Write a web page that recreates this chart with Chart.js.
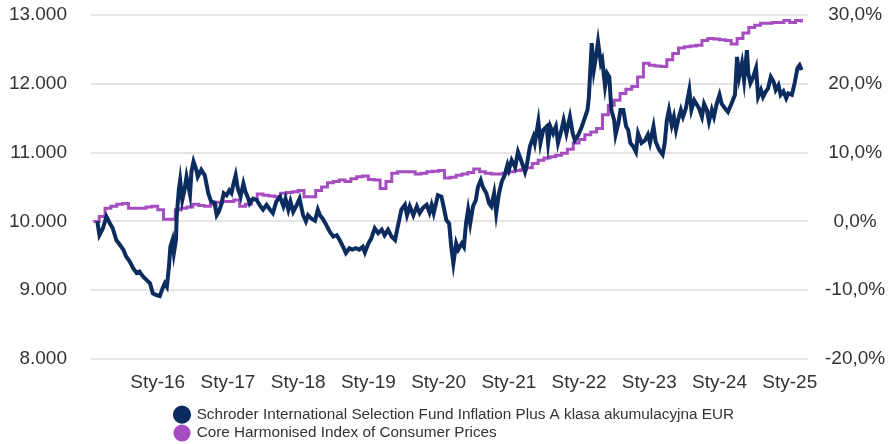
<!DOCTYPE html>
<html>
<head>
<meta charset="utf-8">
<script src="https://cdn.jsdelivr.net/npm/chart.js@4"></script>
<style>
  body { margin: 0; background: #ffffff; }
  #wrap { width: 893px; height: 444px; }
</style>
</head>
<body>
<div id="wrap"><canvas id="lineChart" width="893" height="444"></canvas></div>
<script>
// Tick labels (years, Polish "Sty" = January)
const yearTicks = [2016, 2017, 2018, 2019, 2020, 2021, 2022, 2023, 2024, 2025];
const yearLabels = ["Sty-16", "Sty-17", "Sty-18", "Sty-19", "Sty-20", "Sty-21", "Sty-22", "Sty-23", "Sty-24", "Sty-25"];

const seriesNames = [
    "Schroder International Selection Fund Inflation Plus A klasa akumulacyjna EUR",
    "Core Harmonised Index of Consumer Prices",
];

// Fund value (growth of 10 000), dates as decimal years
const fundDates = [
    2015.14, 2015.17, 2015.22, 2015.27, 2015.32, 2015.36, 2015.41, 2015.46, 2015.51, 2015.55,
    2015.60, 2015.65, 2015.70, 2015.74, 2015.79, 2015.84, 2015.89, 2015.93, 2015.98, 2016.03,
    2016.07, 2016.10, 2016.13, 2016.16, 2016.18, 2016.21, 2016.23, 2016.26, 2016.27, 2016.30,
    2016.32, 2016.35, 2016.38, 2016.41, 2016.46, 2016.48, 2016.51, 2016.55, 2016.57, 2016.62,
    2016.67, 2016.72, 2016.76, 2016.81, 2016.84, 2016.87, 2016.91, 2016.94, 2016.98, 2017.02,
    2017.05, 2017.08, 2017.11, 2017.14, 2017.18, 2017.22, 2017.25, 2017.29, 2017.31, 2017.36,
    2017.41, 2017.45, 2017.50, 2017.55, 2017.60, 2017.64, 2017.69, 2017.74, 2017.79, 2017.82,
    2017.86, 2017.89, 2017.93, 2017.98, 2018.02, 2018.07, 2018.11, 2018.14, 2018.19, 2018.24,
    2018.28, 2018.31, 2018.35, 2018.40, 2018.45, 2018.50, 2018.55, 2018.59, 2018.64, 2018.68,
    2018.73, 2018.77, 2018.82, 2018.87, 2018.92, 2018.95, 2019.00, 2019.04, 2019.09, 2019.14,
    2019.19, 2019.23, 2019.28, 2019.33, 2019.38, 2019.42, 2019.47, 2019.52, 2019.55, 2019.59,
    2019.64, 2019.69, 2019.73, 2019.78, 2019.83, 2019.87, 2019.90, 2019.93, 2019.99, 2020.04,
    2020.07, 2020.11, 2020.15, 2020.18, 2020.21, 2020.25, 2020.28, 2020.33, 2020.36, 2020.39,
    2020.42, 2020.45, 2020.49, 2020.53, 2020.56, 2020.60, 2020.63, 2020.68, 2020.72, 2020.75,
    2020.79, 2020.82, 2020.86, 2020.90, 2020.94, 2020.98, 2021.00, 2021.04, 2021.09, 2021.13,
    2021.18, 2021.23, 2021.26, 2021.30, 2021.35, 2021.37, 2021.42, 2021.45, 2021.49, 2021.54,
    2021.56, 2021.59, 2021.63, 2021.67, 2021.70, 2021.75, 2021.78, 2021.82, 2021.87, 2021.91,
    2021.94, 2021.99, 2022.04, 2022.08, 2022.12, 2022.14, 2022.18, 2022.21, 2022.24, 2022.27,
    2022.31, 2022.33, 2022.37, 2022.40, 2022.43, 2022.46, 2022.50, 2022.52, 2022.56, 2022.59,
    2022.63, 2022.67, 2022.70, 2022.73, 2022.77, 2022.81, 2022.84, 2022.89, 2022.94, 2022.98,
    2023.01, 2023.06, 2023.09, 2023.14, 2023.19, 2023.22, 2023.25, 2023.28, 2023.32, 2023.35,
    2023.38, 2023.41, 2023.45, 2023.48, 2023.52, 2023.57, 2023.60, 2023.64, 2023.67, 2023.71,
    2023.75, 2023.78, 2023.82, 2023.85, 2023.89, 2023.92, 2023.96, 2024.00, 2024.03, 2024.08,
    2024.12, 2024.17, 2024.22, 2024.25, 2024.28, 2024.32, 2024.35, 2024.39, 2024.41, 2024.44,
    2024.48, 2024.52, 2024.55, 2024.59, 2024.62, 2024.66, 2024.69, 2024.73, 2024.77, 2024.80,
    2024.84, 2024.87, 2024.91, 2024.95, 2024.98, 2025.03, 2025.07, 2025.11, 2025.14, 2025.17,
];
const fundValues = [
    10000, 9800, 9900, 10070, 9970, 9900, 9730, 9660, 9590, 9490,
    9420, 9320, 9250, 9270, 9200, 9150, 9100, 8955, 8930, 8915,
    9030, 9100, 9050, 9340, 9630, 9730, 9540, 9730, 10070, 10450,
    10600, 10310, 10450, 10650, 10390, 10720, 10870, 10750, 10650, 10750,
    10670, 10410, 10290, 10270, 10090, 10140, 10260, 10410, 10380, 10450,
    10410, 10550, 10670, 10480, 10360, 10550, 10430, 10330, 10260, 10330,
    10310, 10240, 10170, 10240, 10170, 10120, 10290, 10360, 10220, 10330,
    10170, 10290, 10140, 10240, 10330, 10090, 10000, 10090, 10040, 10010,
    10170, 10090, 10040, 9950, 9850, 9780, 9800, 9730, 9630, 9540,
    9610, 9590, 9610, 9590, 9630, 9550, 9680, 9750, 9900, 9830,
    9880, 9800, 9880, 9780, 9730, 9930, 10170, 10240, 10090, 10220,
    10090, 10220, 10120, 10200, 10240, 10130, 10240, 10120, 10380, 10360,
    10220, 10020, 9970, 9630, 9390, 9680, 9590, 9680, 9630, 9970,
    10170, 9970, 10220, 10310, 10500, 10600, 10500, 10410, 10260, 10220,
    10410, 10120, 10410, 10580, 10670, 10820, 10750, 10890, 10790, 11010,
    10870, 10720, 10840, 11090, 11230, 11140, 11450, 11140, 11330, 11380,
    11140, 11380, 11280, 11380, 11140, 11330, 11470, 11280, 11520, 11280,
    11180, 11260, 11380, 11500, 11620, 11810, 12590, 12200, 12390, 12610,
    12300, 12350, 11960, 12150, 12100, 11620, 11470, 11260, 11430, 11620,
    11620, 11380, 11330, 11140, 11090, 11010, 11280, 11140, 11180, 11260,
    11140, 11380, 11160, 11040, 10970, 11140, 11470, 11620, 11400, 11520,
    11330, 11470, 11620, 11520, 11640, 11910, 11620, 11760, 11710, 11640,
    11520, 11710, 11620, 11450, 11620, 11520, 11710, 11840, 11710, 11640,
    11590, 11710, 11840, 12390, 12100, 12300, 12050, 12490, 12150, 12010,
    12100, 12230, 11810, 11910, 11810, 11890, 11930, 12100, 12030, 11910,
    11980, 11840, 11890, 11790, 11860, 11840, 12010, 12230, 12270, 12200,
];

// Core HICP rebased to 10 000, monthly from February 2015
const cpiStartYear = 2015;
const cpiStartMonth = 2;
const cpiValues = [
    10000, 10070, 10190, 10220, 10250, 10260, 10190, 10190, 10190, 10210, 10220,
    10170, 10030, 10030, 10170, 10190, 10210, 10250, 10230, 10220, 10250, 10280, 10290,
    10290, 10310, 10220, 10250, 10320, 10400, 10380, 10370, 10360, 10410, 10420, 10430,
    10450, 10360, 10360, 10450, 10500, 10560, 10580, 10600, 10580, 10620, 10650, 10660,
    10610, 10600, 10480, 10580, 10700, 10720, 10720, 10720, 10690, 10700, 10720, 10730,
    10740, 10630, 10640, 10670, 10690, 10710, 10760, 10720, 10700, 10690, 10690, 10700,
    10720, 10740, 10750, 10780, 10840, 10890, 10920, 10940, 10960, 10990, 11050, 11140,
    11190, 11260, 11300, 11350, 11550, 11690, 11760, 11860, 11920, 11960, 12100, 12300,
    12270, 12260, 12250, 12350, 12440, 12520, 12540, 12550, 12560, 12630, 12660, 12650,
    12640, 12630, 12580, 12660, 12740, 12820, 12850, 12880, 12880, 12890, 12890, 12920,
    12890, 12920, 12890,
];

const fundPoints = fundDates.map((d, i) => ({ x: d, y: fundValues[i] }));
const cpiPoints = cpiValues.map((v, i) => ({
    x: cpiStartYear + (cpiStartMonth - 1 + i) / 12,
    y: v,
}));

// Number formats: "13.000" and "30,0%"
function formatThousands(v) {
    return String(v).replace(/\B(?=(\d{3})+(?!\d))/g, ".");
}
function formatPercent(v) {
    return v.toFixed(1).replace(".", ",") + "%";
}

// Fixed axis widths; drop the extra top/bottom padding that tick padding adds
function fixYAxis(width) {
    return function (scale) {
        scale.width = width;
        scale.paddingTop = 0;
        scale.paddingBottom = 0;
    };
}

// Put legend rows under the chart, left-aligned at a fixed offset
const legendPlacement = {
    id: "legendPlacement",
    beforeDraw(chart) {
        const legend = chart.legend;
        legend.left = 172;
        legend.right = 760;
        legend.top = 404;
        legend.bottom = 444;
        legend.width = legend.right - legend.left;
        legend.height = legend.bottom - legend.top;
    },
};

const tickFont = { family: "'Liberation Sans', Arial, sans-serif", size: 19 };

const ctx = document.getElementById("lineChart").getContext("2d");
const lineChart = new Chart(ctx, {
    type: "line",
    data: {
        datasets: [
            {
                label: seriesNames[0],
                data: fundPoints,
                borderColor: "#0c2b5e",
                backgroundColor: "#0c2b5e",
                borderWidth: 4,
                pointRadius: 0,
                tension: 0,
                yAxisID: "y",
            },
            {
                label: seriesNames[1],
                data: cpiPoints,
                borderColor: "#a64dc1",
                backgroundColor: "#a64dc1",
                borderWidth: 3,
                pointRadius: 0,
                stepped: true,
                yAxisID: "y",
            },
        ],
    },
    options: {
        responsive: false,
        animation: false,
        layout: { padding: { top: 15, bottom: 0, left: 0, right: 0 } },
        plugins: {
            legend: {
                position: "bottom",
                align: "start",
                maxHeight: 28,
                labels: {
                    usePointStyle: true,
                    pointStyle: "circle",
                    boxWidth: 14,
                    boxHeight: 10,
                    padding: 3,
                    color: "#333333",
                    font: { family: "'Liberation Sans', Arial, sans-serif", size: 15.3 },
                },
            },
            tooltip: { enabled: false },
        },
        scales: {
            x: {
                type: "linear",
                min: 2015.05,
                max: 2025.26,
                afterBuildTicks(scale) {
                    scale.ticks = yearTicks.map((v) => ({ value: v }));
                },
                afterFit(scale) {
                    scale.height = 57;
                },
                grid: { display: false, drawTicks: false },
                border: { display: false },
                ticks: {
                    padding: 12,
                    color: "#333333",
                    font: tickFont,
                    maxRotation: 0,
                    autoSkip: false,
                    callback: (value) => yearLabels[yearTicks.indexOf(value)],
                },
            },
            y: {
                position: "left",
                min: 8000,
                max: 13000,
                afterFit: fixYAxis(91),
                grid: { color: "#e4e4e4", lineWidth: 2, drawTicks: false },
                border: { display: false },
                ticks: {
                    stepSize: 1000,
                    padding: 24,
                    color: "#333333",
                    font: tickFont,
                    callback: (v) => formatThousands(v),
                },
            },
            y1: {
                position: "right",
                min: -20,
                max: 30,
                afterFit: fixYAxis(85),
                grid: { display: false, drawTicks: false },
                border: { display: false },
                ticks: {
                    stepSize: 10,
                    padding: 17,
                    crossAlign: "center",
                    color: "#333333",
                    font: tickFont,
                    callback: (v) => formatPercent(v),
                },
            },
        },
    },
    plugins: [legendPlacement],
});
</script>
</body>
</html>
